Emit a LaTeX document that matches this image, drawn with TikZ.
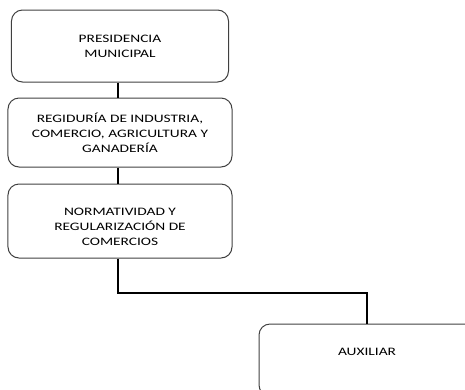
\documentclass[tikz,border=0pt]{standalone}
\usepackage{fontspec}
\setmainfont[FakeStretch=1.35]{Carlito}
\begin{document}
\begin{tikzpicture}[x=1bp,y=-1bp,
  orgbox/.style={draw=black!75,line width=1bp,rounded corners=11bp,align=center,inner sep=0pt,
    font=\fontsize{11.4bp}{15bp}\selectfont},
  link/.style={draw=black,line width=1.8bp}]
\useasboundingbox (0,0) rectangle (465,389);
\clip (0,0) rectangle (465,389);
\node[orgbox,minimum width=217bp,minimum height=72bp] (pm) at (120,46) {PRESIDENCIA\\MUNICIPAL};
\node[orgbox,minimum width=224bp,minimum height=69bp] (reg) at (120,132.5) {REGIDURÍA DE INDUSTRIA,\\COMERCIO, AGRICULTURA Y\\GANADERÍA};
\node[orgbox,minimum width=224bp,minimum height=74bp] (norm) at (120,221) {};
\node[font=\fontsize{11.4bp}{15bp}\selectfont,align=center,inner sep=0pt] (normt) at (120,227) {NORMATIVIDAD Y\\REGULARIZACIÓN DE\\COMERCIOS};
\node[orgbox,minimum width=216bp,minimum height=72bp] (aux) at (367,360) {};
\node[font=\fontsize{11.4bp}{15bp}\selectfont,inner sep=0pt] (auxt) at (367,352) {AUXILIAR};
\coordinate (bend1) at (118,293);
\coordinate (bend2) at (367,293);
\draw[link] (pm.south -| 118,0) -- (reg.north -| 118,0);
\draw[link] (reg.south -| 118,0) -- (norm.north -| 118,0);
\draw[link] (norm.south -| bend1) -- (bend1) -- (bend2) -- (aux.north -| bend2);
\end{tikzpicture}
\end{document}
